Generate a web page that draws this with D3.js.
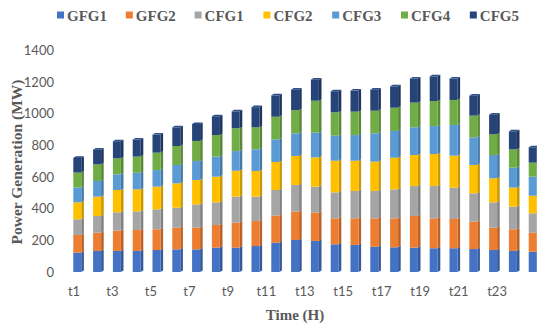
<!DOCTYPE html>
<html>
<head>
<meta charset="utf-8">
<script src="https://cdn.jsdelivr.net/npm/d3@7"></script>
<style>
  html, body { margin: 0; padding: 0; background: #fff; }
  svg { display: block; }
</style>
</head>
<body>
<div id="chart"></div>
<script>
// Hourly generation dispatch per unit (MW)
const categories = ["t1","t2","t3","t4","t5","t6","t7","t8","t9","t10","t11","t12",
                    "t13","t14","t15","t16","t17","t18","t19","t20","t21","t22","t23","t24"];
const seriesNames = ["GFG1","GFG2","CFG1","CFG2","CFG3","CFG4","CFG5"];
const GFG1 = [122,133,133,133,139,143,143,154,154,164,185,202,196,175,171,160,156,154,150,150,145,139,133,128];
const GFG2 = [112,115,128,132,131,137,137,143,158,158,171,179,179,164,168,179,183,200,189,185,173,141,137,120];
const CFG1 = [99,106,116,118,126,126,147,143,164,154,162,169,164,164,173,173,183,189,204,198,179,160,143,123];
const CFG2 = [107,122,141,139,143,154,154,162,164,162,177,183,185,200,191,185,200,196,202,202,179,152,120,111];
const CFG3 = [93,99,99,105,105,116,120,127,124,137,143,143,156,158,162,179,169,175,177,194,175,147,126,120];
const CFG4 = [95,105,101,102,110,120,127,136,144,139,143,147,202,148,148,143,147,156,158,158,137,131,116,89];
const CFG5 = [93,93,108,108,114,118,107,119,107,127,135,129,133,133,133,133,135,152,156,135,126,124,114,97];
const seriesValues = [GFG1, GFG2, CFG1, CFG2, CFG3, CFG4, CFG5];
const colors = ["#4472C4","#ED7D31","#A5A5A5","#FFC000","#5B9BD5","#70AD47","#264478"];
const yTicks = [0,200,400,600,800,1000,1200,1400];
const xTickLabels = ["t1","t3","t5","t7","t9","t11","t13","t15","t17","t19","t21","t23"];
const xTitle = "Time (H)";
const yTitle = "Power Generation (MW)";

const W = 537, H = 328;
const svg = d3.select("#chart").append("svg").attr("width", W).attr("height", H);

// table for stacking
const table = categories.map((c, i) => {
  const row = { cat: c };
  seriesNames.forEach((s, k) => row[s] = seriesValues[k][i]);
  return row;
});
const stacked = d3.stack().keys(seriesNames)(table);

const y = d3.scaleLinear().domain([0, 1400]).range([272, 50.4]);
// bars sit on a floor drawn in perspective, so they spread slightly wider than the tick labels
const xBar = d3.scalePoint().domain(categories).range([77.3, 532.7]);
const xLab = d3.scalePoint().domain(categories).range([73.5, 515.8]);
const color = d3.scaleOrdinal().domain(seriesNames).range(colors);

const bw = 8, dx = 2.6, dy = 1.6;

// Y tick labels
const yAxis = d3.axisLeft(y).tickValues(yTicks).tickFormat(d3.format("d")).tickSize(0).tickPadding(0);
const gy = svg.append("g").attr("transform", "translate(54,0)").call(yAxis);
gy.select(".domain").remove();
gy.selectAll("text").attr("fill", "#595959").style("font-family", "Lato, 'Open Sans', sans-serif").style("font-size", "13px");

// X tick labels
const xAxis = d3.axisBottom(xLab).tickValues(xTickLabels).tickSize(0).tickPadding(0);
const gx = svg.append("g").attr("transform", "translate(0,287)").call(xAxis);
gx.select(".domain").remove();
gx.selectAll("text").attr("fill", "#595959").style("font-family", "Lato, 'Open Sans', sans-serif").style("font-size", "13px");

// 3D stacked columns
const bars = svg.append("g");
stacked.forEach((layer, k) => {
  const base = d3.color(color(layer.key));
  const side = base.darker(0.7).formatHex();
  const g = bars.append("g");
  layer.forEach((d, i) => {
    const cx = xBar(categories[i]);
    const x0 = cx - bw / 2, x1 = cx + bw / 2;
    const yt = y(d[1]), yb = y(d[0]);
    g.append("polygon")
      .attr("points", [[x1, yt], [x1 + dx, yt - dy], [x1 + dx, yb - dy], [x1, yb]].join(" "))
      .attr("fill", side);
    g.append("rect")
      .attr("x", x0).attr("y", yt).attr("width", bw).attr("height", Math.max(0, yb - yt))
      .attr("fill", base.formatHex());
    if (k === stacked.length - 1) {
      g.append("polygon")
        .attr("points", [[x0, yt], [x0 + dx, yt - dy], [x1 + dx, yt - dy], [x1, yt]].join(" "))
        .attr("fill", base.brighter(0.4).formatHex());
    }
  });
});

// Axis titles
svg.append("text")
  .attr("x", 295).attr("y", 320)
  .attr("text-anchor", "middle")
  .attr("fill", "#595959")
  .style("font-family", "'Liberation Serif', 'Times New Roman', serif")
  .style("font-weight", "bold").style("font-size", "15px")
  .text(xTitle);

svg.append("text")
  .attr("transform", "translate(22,162) rotate(-90)")
  .attr("text-anchor", "middle")
  .attr("fill", "#595959")
  .style("font-family", "'Liberation Serif', 'Times New Roman', serif")
  .style("font-weight", "bold").style("font-size", "15.5px")
  .text(yTitle);

// Legend
const legend = svg.append("g").attr("transform", "translate(57,0)");
seriesNames.forEach((s, k) => {
  const lg = legend.append("g").attr("transform", `translate(${k * 68.8},0)`);
  lg.append("rect").attr("x", 0).attr("y", 11.5).attr("width", 7).attr("height", 7).attr("fill", color(s));
  lg.append("text").attr("x", 10).attr("y", 20.5)
    .attr("fill", "#595959")
    .style("font-family", "'Liberation Serif', 'Times New Roman', serif")
    .style("font-weight", "bold").style("font-size", "15px")
    .text(s);
});
</script>
</body>
</html>
